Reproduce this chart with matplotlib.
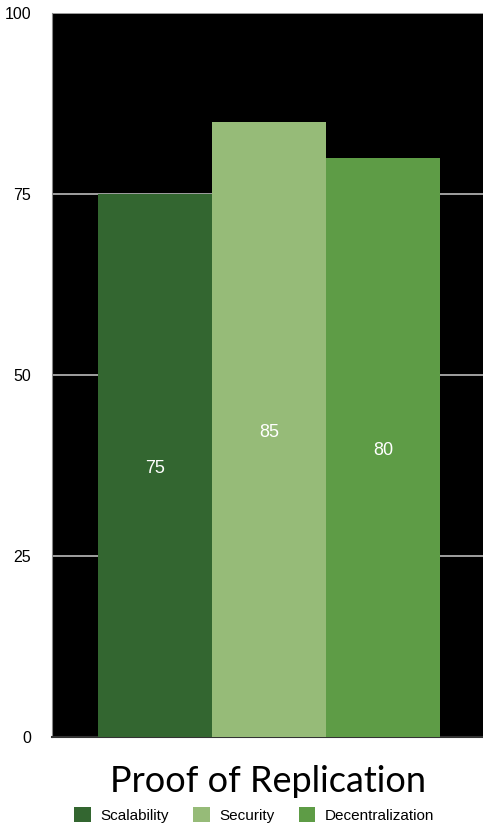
import matplotlib
matplotlib.use("Agg")
import matplotlib.pyplot as plt
from matplotlib.patches import Patch

plt.rcParams["font.family"] = ["Liberation Sans", "DejaVu Sans"]

categories = ["Scalability", "Security", "Decentralization"]
values = [75, 85, 80]
colors = ["#336630", "#96bb78", "#5e9c46"]
yticks = [0, 25, 50, 75, 100]
title = "Proof of Replication"

fig = plt.figure(figsize=(4.83, 8.24), dpi=100)
ax = fig.add_axes([52/483, 87/824, 1 - 52/483, (737-13)/824])
ax.set_facecolor("black")

x = list(range(len(categories)))
bars = ax.bar(x, values, width=1.0, color=colors, zorder=3)
for xi, v in zip(x, values):
    ax.text(xi, v/2 - 0.4, str(v), ha="center", va="center", color="white", fontsize=13, zorder=4)

ax.set_xlim(-0.904, 2.877)
ax.set_ylim(0, 100)
ax.set_yticks(yticks)
ax.set_yticklabels([str(t) for t in yticks], fontsize=11.5)
ax.tick_params(axis="y", length=0, pad=15)
ax.set_xticks([])
for t in yticks[1:]:
    ax.axhline(t, color="#bbbbbb", lw=1.2, zorder=2)
ax.spines["top"].set_visible(False)
ax.spines["right"].set_visible(False)
ax.spines["left"].set_color("#888888")
ax.spines["bottom"].set_color("#333333")
ax.spines["bottom"].set_linewidth(1.5)

fig.text(268/483, 1 - 782/824, title, ha="center", va="center", fontsize=26, family="Lato")

handles = [Patch(facecolor=c, edgecolor="none") for c in colors]
fig.legend(handles, categories, loc="center", bbox_to_anchor=(254/483, 1 - 815/824),
           ncol=3, frameon=False, fontsize=11, handlelength=1.1, handleheight=1.1,
           columnspacing=1.6, handletextpad=0.6)

fig.savefig("out.png", dpi=100)
